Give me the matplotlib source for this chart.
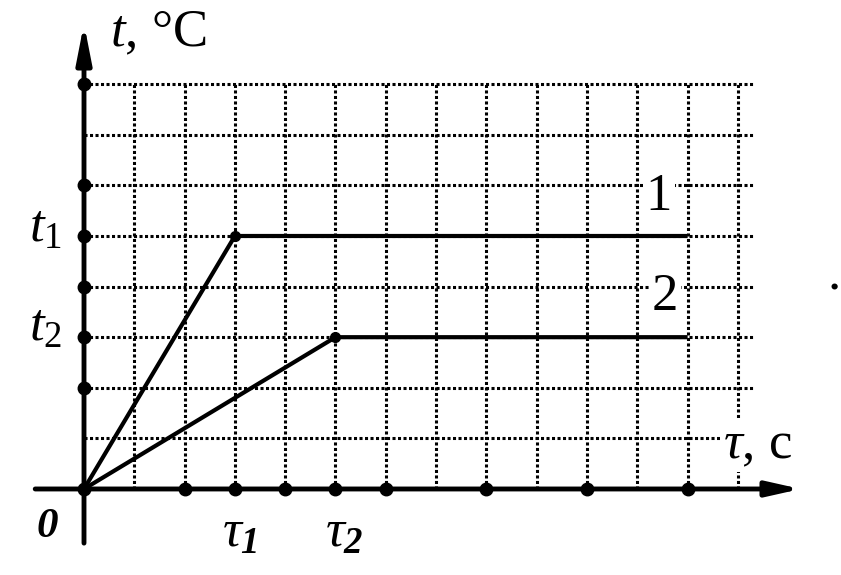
import matplotlib.pyplot as plt

plt.rcParams['font.family'] = ['Liberation Serif', 'DejaVu Serif']
plt.rcParams['mathtext.fontset'] = 'custom'
plt.rcParams['mathtext.rm'] = 'Liberation Serif'
plt.rcParams['mathtext.it'] = 'Liberation Serif:italic'
plt.rcParams['mathtext.bf'] = 'Liberation Serif:bold'
plt.rcParams['mathtext.bfit'] = 'Liberation Serif:italic:bold'

# --- dane wykresu (jednostki siatki) ---
tau1, tau2 = 3, 5
t1, t2 = 5, 3
tau_end = 12
line1_tau = [0, tau1, tau_end]
line1_t = [0, t1, t1]
line2_tau = [0, tau2, tau_end]
line2_t = [0, t2, t2]
x_dots = [0, 2, 3, 4, 5, 6, 8, 10, 12]
y_dots = [2, 3, 4, 5, 6, 8]
n_cols, n_rows = 13, 8

fig = plt.figure(figsize=(8.41, 5.75), dpi=100)
ax = fig.add_axes([0, 0, 1, 1])
ax.set_xlim(-1.670, 15.050)
ax.set_ylim(-1.700, 9.664)
ax.axis('off')

# siatka kropkowana
grid_kw = dict(color='black', lw=2.2, linestyle=(0, (1, 0.8)), zorder=1)
ax.vlines(range(1, n_cols + 1), 0, n_rows, **grid_kw)
ax.hlines(range(1, n_rows + 1), 0, 13.35, **grid_kw)

# osie ze strzalkami
ax.annotate('', xy=(14.25, 0), xytext=(-0.97, 0),
            arrowprops=dict(arrowstyle='-|>,head_length=2.0,head_width=0.45',
                            lw=3.5, color='black', shrinkA=0, shrinkB=0), zorder=3)
ax.annotate('', xy=(0, 9.2), xytext=(0, -1.07),
            arrowprops=dict(arrowstyle='-|>,head_length=2.3,head_width=0.45',
                            lw=3.5, color='black', shrinkA=0, shrinkB=0), zorder=3)

# wykresy 1 i 2
for xs, ys in [(line1_tau, line1_t), (line2_tau, line2_t)]:
    ax.plot(xs, ys, color='black', lw=3, solid_capstyle='butt', zorder=3)
    ax.plot(xs[1], ys[1], 'o', color='black', ms=7, zorder=4)

# kropki na osiach
ax.plot(x_dots, [0] * len(x_dots), 'o', color='black', ms=9, zorder=4)
ax.plot([0] * len(y_dots), y_dots, 'o', color='black', ms=9, zorder=4)

# podpisy
fs = 38
white = dict(facecolor='white', edgecolor='none', pad=2)
ax.text(0.52, 8.75, r'$t$, °C', fontsize=fs, ha='left', va='baseline')
ax.text(-0.44, t1 - 0.12, r'$t_1$', fontsize=fs, ha='right', va='baseline')
ax.text(-0.44, t2 - 0.08, r'$t_2$', fontsize=fs, ha='right', va='baseline')
ax.text(tau1 - 0.26, -1.15, r'$\tau_{\mathbfit{1}}$', fontsize=fs, ha='left', va='baseline')
ax.text(tau2 - 0.20, -1.15, r'$\tau_{\mathbfit{2}}$', fontsize=fs, ha='left', va='baseline')
ax.text(-0.72, -0.75, r'$\mathbfit{0}$', fontsize=31, ha='center', va='center')
ax.text(12.70, 0.61, r'$\tau$, c', fontsize=fs, ha='left', va='baseline', bbox=white)
ax.text(11.43, 5.77, '1', fontsize=fs, ha='center', va='center', bbox=white)
ax.text(11.55, 3.80, '2', fontsize=fs, ha='center', va='center', bbox=white)
ax.text(14.92, 3.95, '.', fontsize=fs, ha='center', va='baseline')

fig.savefig('out.png', dpi=100)
